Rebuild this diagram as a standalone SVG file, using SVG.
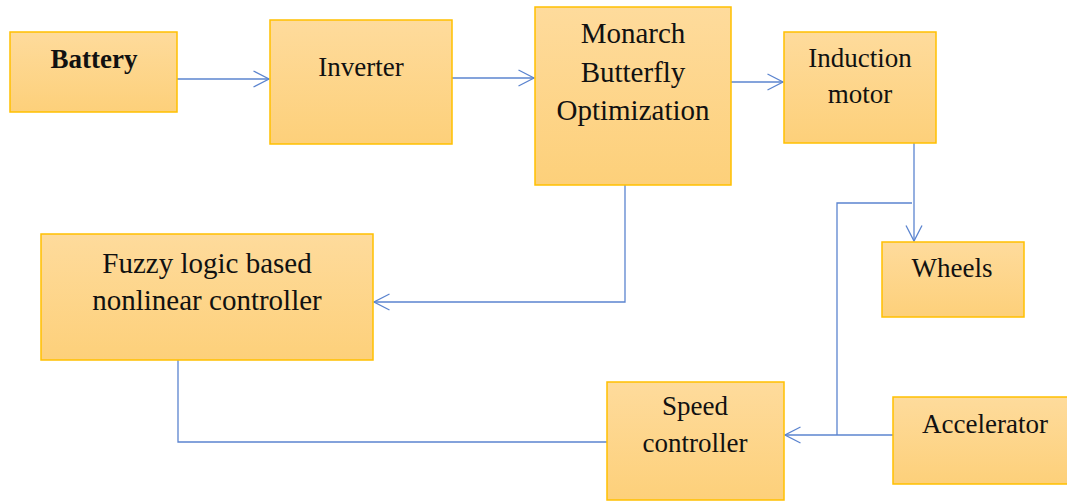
<svg xmlns="http://www.w3.org/2000/svg" width="1067" height="501" viewBox="0 0 1067 501">
<defs>
<linearGradient id="g" x1="0" y1="0" x2="0" y2="1">
<stop offset="0" stop-color="#fedb9c"/>
<stop offset="1" stop-color="#fdd07a"/>
</linearGradient>
<marker id="a" viewBox="0 0 18 18" refX="16.5" refY="9" markerWidth="18" markerHeight="18" markerUnits="userSpaceOnUse" orient="auto">
<path d="M1 1 L16.5 9 L1 17" fill="none" stroke="#5b84cf" stroke-width="1.3"/>
</marker>
<style>
.b{fill:url(#g);stroke:#ffc000;stroke-width:1.5}
.t{font-family:"Liberation Serif","Times New Roman",serif;font-size:27px;fill:#111;text-anchor:middle}
.l{fill:none;stroke:#5b84cf;stroke-width:1.3}
</style>
</defs>
<rect width="1067" height="501" fill="#fff"/>
<g id="connectors">
<path class="l" d="M177 79 H269" marker-end="url(#a)"/>
<path class="l" d="M452 78 H534" marker-end="url(#a)"/>
<path class="l" d="M731 82 H783" marker-end="url(#a)"/>
<path class="l" d="M625 185 V302 H374" marker-end="url(#a)"/>
<path class="l" d="M914 143 V241" marker-end="url(#a)"/>
<path class="l" d="M912 203 H837 V435"/>
<path class="l" d="M893 435 H785" marker-end="url(#a)"/>
<path class="l" d="M178 360 V442 H607"/>
</g>
<g id="battery"><rect class="b" x="10" y="32" width="167" height="80"/><text class="t" x="94" y="68" font-weight="bold">Battery</text></g>
<g id="inverter"><rect class="b" x="270" y="20" width="182" height="124"/><text class="t" x="361" y="76">Inverter</text></g>
<g id="mbo"><rect class="b" x="535" y="7" width="196" height="178"/><text class="t" x="633" y="43" style="font-size:29px">Monarch</text><text class="t" x="633" y="82" style="font-size:29px">Butterfly</text><text class="t" x="633" y="120" style="font-size:29px">Optimization</text></g>
<g id="motor"><rect class="b" x="784" y="32" width="152" height="111"/><text class="t" x="860" y="67">Induction</text><text class="t" x="860" y="103">motor</text></g>
<g id="wheels"><rect class="b" x="882" y="242" width="142" height="75"/><text class="t" x="952" y="277">Wheels</text></g>
<g id="fuzzy"><rect class="b" x="41" y="234" width="332" height="126"/><text class="t" x="207" y="273" style="font-size:29px">Fuzzy logic based</text><text class="t" x="207" y="310" style="font-size:29px">nonlinear controller</text></g>
<g id="speed"><rect class="b" x="607" y="382" width="177" height="118"/><text class="t" x="695" y="415">Speed</text><text class="t" x="695" y="452">controller</text></g>
<g id="accelerator"><rect class="b" x="893" y="397" width="175" height="87"/><text class="t" x="985" y="433">Accelerator</text></g>
</svg>
